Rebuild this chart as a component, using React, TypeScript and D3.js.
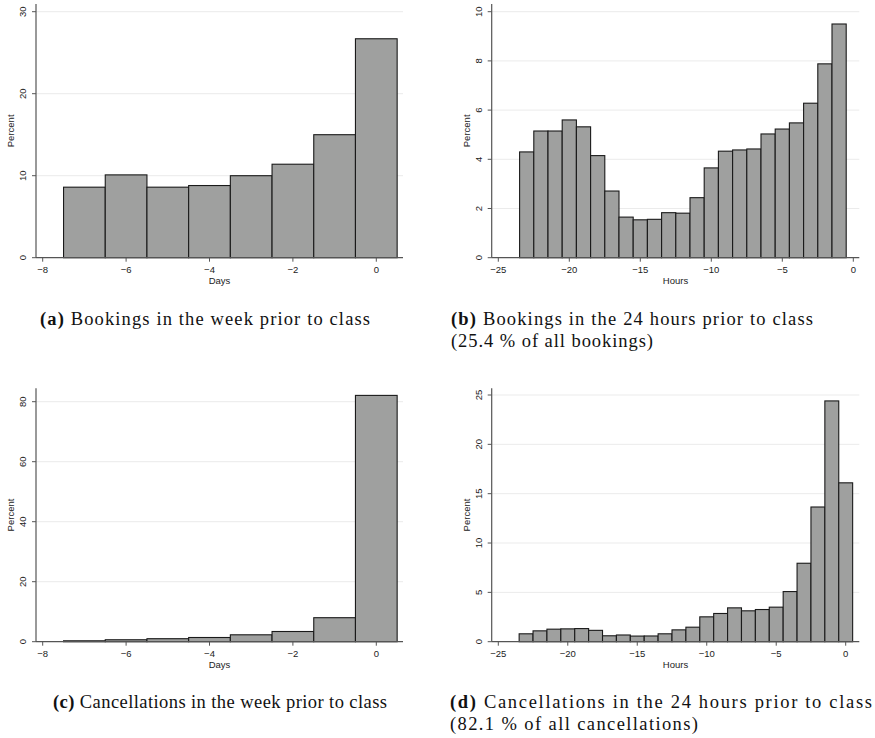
import React from 'react'
import * as d3 from 'd3'

// percent of bookings / cancellations per bin
const dayBins = [-7, -6, -5, -4, -3, -2, -1, 0]
const bookingsWeek = [8.6, 10.1, 8.6, 8.8, 10.0, 11.4, 15.0, 26.7]
const cancelWeek = [0.3, 0.65, 1.0, 1.4, 2.3, 3.4, 8.0, 82.1]

const hourBinsBook = [-23, -22, -21, -20, -19, -18, -17, -16, -15, -14, -13, -12,
  -11, -10, -9, -8, -7, -6, -5, -4, -3, -2, -1]
const bookings24 = [4.3, 5.15, 5.15, 5.6, 5.32, 4.15, 2.71, 1.65, 1.54, 1.56, 1.83, 1.81,
  2.44, 3.65, 4.33, 4.38, 4.42, 5.03, 5.23, 5.48, 6.28, 7.88, 9.5]

const hourBinsCancel = [-23, -22, -21, -20, -19, -18, -17, -16, -15, -14, -13, -12,
  -11, -10, -9, -8, -7, -6, -5, -4, -3, -2, -1, 0]
const cancel24 = [0.8, 1.1, 1.27, 1.3, 1.33, 1.15, 0.6, 0.68, 0.57, 0.58, 0.8, 1.2,
  1.47, 2.52, 2.86, 3.43, 3.13, 3.26, 3.5, 5.08, 7.95, 13.65, 24.4, 16.1]

const dayTicks = [-8, -6, -4, -2, 0]
const hourTicks = [-25, -20, -15, -10, -5, 0]
const ticksA = [0, 10, 20, 30]
const ticksB = [0, 2, 4, 6, 8, 10]
const ticksC = [0, 20, 40, 60, 80]
const ticksD = [0, 5, 10, 15, 20, 25]

const fmt = (v: number) => (v < 0 ? '\u2212' + Math.abs(v) : String(v))
const sans = 'Liberation Sans, Arial, sans-serif'
const serif = 'Liberation Serif, Times New Roman, serif'

interface HistProps {
  bins: number[]
  values: number[]
  xDomain: [number, number]
  xRange: [number, number]
  yDomain: [number, number]
  yRange: [number, number]
  frame: { x0: number; x1: number; top: number }
  xTicks: number[]
  yTicks: number[]
  xTitle: string
}

function Hist(p: HistProps) {
  const x = d3.scaleLinear().domain(p.xDomain).range(p.xRange)
  const y = d3.scaleLinear().domain(p.yDomain).range(p.yRange)
  const base = y(0)
  const { x0, x1, top } = p.frame
  const axisCol = '#555'
  return (
    <g>
      {p.yTicks.filter(t => t !== 0).map(t => (
        <line key={'g' + t} x1={x0} x2={x1} y1={y(t)} y2={y(t)} stroke="#ebebeb" strokeWidth={1} />
      ))}
      {p.bins.map((b, i) => (
        <rect key={b} x={x(b - 0.5)} y={y(p.values[i])} width={x(b + 0.5) - x(b - 0.5)}
          height={base - y(p.values[i])} fill="#9fa09f" stroke="#1a1a1a" strokeWidth={1.1} />
      ))}
      <line x1={x0} x2={x0} y1={top} y2={base} stroke={axisCol} strokeWidth={1.2} />
      <line x1={x0} x2={x1} y1={base} y2={base} stroke={axisCol} strokeWidth={1.2} />
      {p.yTicks.map(t => (
        <g key={'y' + t}>
          <line x1={x0 - 4} x2={x0} y1={y(t)} y2={y(t)} stroke={axisCol} strokeWidth={1} />
          <text transform={`translate(${x0 - 13},${y(t)}) rotate(-90)`} textAnchor="middle"
            dy="0.35em" fontSize={9.5} fontFamily={sans} fill="#222">{t}</text>
        </g>
      ))}
      {p.xTicks.map(t => (
        <g key={'x' + t}>
          <line x1={x(t)} x2={x(t)} y1={base} y2={base + 4} stroke={axisCol} strokeWidth={1} />
          <text x={x(t)} y={base + 11.5} textAnchor="middle" dy="0.35em" fontSize={9.5}
            fontFamily={sans} fill="#222">{fmt(t)}</text>
        </g>
      ))}
      <text x={(x0 + x1) / 2} y={base + 22.5} textAnchor="middle" dy="0.35em" fontSize={9.5}
        fontFamily={sans} fill="#222">{p.xTitle}</text>
      <text transform={`translate(${x0 - 25},${(top + base) / 2}) rotate(-90)`} textAnchor="middle"
        dy="0.35em" fontSize={9.5} fontFamily={sans} fill="#222">Percent</text>
    </g>
  )
}

function Caption(props: { x: number; y: number; tag: string; text: string; len: number }) {
  return (
    <text x={props.x} y={props.y} fontFamily={serif} fontSize={18.5} fill="#111"
      textLength={props.len} lengthAdjust="spacing">
      <tspan fontWeight="bold">{props.tag}</tspan> {props.text}
    </text>
  )
}

export default function App() {
  const left = { x0: 36, x1: 403 }
  const right = { x0: 491.7, x1: 859.3 }
  return (
    <svg width={875} height={738} style={{ position: 'absolute', left: 0, top: 0, background: '#fff' }}>
      <Hist bins={dayBins} values={bookingsWeek} xDomain={[-8, 0]} xRange={[42.7, 376.3]}
        yDomain={[0, 30]} yRange={[257.7, 11.7]} frame={{ ...left, top: 4 }}
        xTicks={dayTicks} yTicks={ticksA} xTitle="Days" />
      <Hist bins={hourBinsBook} values={bookings24} xDomain={[-25, 0]} xRange={[498.3, 853.3]}
        yDomain={[0, 10]} yRange={[257.7, 11.7]} frame={{ ...right, top: 4 }}
        xTicks={hourTicks} yTicks={ticksB} xTitle="Hours" />
      <Hist bins={dayBins} values={cancelWeek} xDomain={[-8, 0]} xRange={[42.7, 376.3]}
        yDomain={[0, 80]} yRange={[641.7, 401.7]} frame={{ ...left, top: 388.3 }}
        xTicks={dayTicks} yTicks={ticksC} xTitle="Days" />
      <Hist bins={hourBinsCancel} values={cancel24} xDomain={[-25, 0]} xRange={[498.3, 845.7]}
        yDomain={[0, 25]} yRange={[641.7, 395]} frame={{ ...right, top: 388.3 }}
        xTicks={hourTicks} yTicks={ticksD} xTitle="Hours" />

      <Caption x={40} y={325} tag="(a)" text="Bookings in the week prior to class" len={330} />
      <Caption x={451} y={325} tag="(b)" text="Bookings in the 24 hours prior to class" len={362} />
      <text x={451} y={347} fontFamily={serif} fontSize={18.5} fill="#111" textLength={202}
        lengthAdjust="spacing">(25.4 % of all bookings)</text>
      <Caption x={53} y={708} tag="(c)" text="Cancellations in the week prior to class" len={334} />
      <Caption x={450} y={708} tag="(d)" text="Cancellations in the 24 hours prior to class" len={422} />
      <text x={450} y={730} fontFamily={serif} fontSize={18.5} fill="#111" textLength={248}
        lengthAdjust="spacing">(82.1 % of all cancellations)</text>
    </svg>
  )
}
